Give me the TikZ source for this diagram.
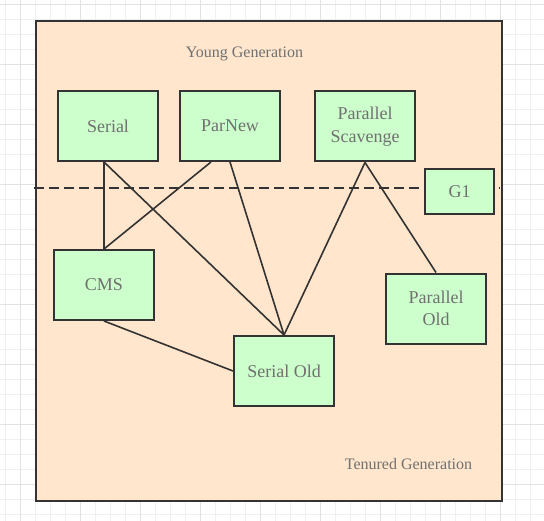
\documentclass[tikz,border=0pt]{standalone}
\usepackage{fontspec}
\setmainfont{Liberation Serif}
\usetikzlibrary{calc}
\definecolor{gridminor}{HTML}{F0F0F0}
\definecolor{gridmajor}{HTML}{E2E2E2}
\definecolor{peach}{HTML}{FFE6CC}
\definecolor{mint}{HTML}{CCFFCC}
\definecolor{edgec}{HTML}{333333}
\definecolor{txtc}{HTML}{707070}
\tikzset{
  gcbox/.style={draw=edgec, line width=2bp, fill=mint, text=txtc, align=center,
    font=\fontsize{18bp}{22.5bp}\selectfont, inner sep=0pt, minimum width=100bp, minimum height=70bp},
  conn/.style={draw=edgec, line width=1.6bp},
  lbl/.style={text=txtc, font=\fontsize{16bp}{19bp}\selectfont, inner sep=0pt}
}
\begin{document}
\begin{tikzpicture}[x=1bp,y=-1bp]
\useasboundingbox (0,0) rectangle (544,521);
\fill[white] (0,0) rectangle (544,521);
\foreach \k in {0,...,36} {
  \draw[gridminor, line width=1bp] (5.7+15*\k,0) -- (5.7+15*\k,521);
  \draw[gridminor, line width=1bp] (0,4.3+15*\k) -- (544,4.3+15*\k);
}
\foreach \k in {0,...,9} {
  \draw[gridmajor, line width=1bp] (20.7+60*\k,0) -- (20.7+60*\k,521);
  \draw[gridmajor, line width=1bp] (0,4.3+60*\k) -- (544,4.3+60*\k);
}
\draw[draw=edgec, line width=2bp, fill=peach] (36,21) rectangle (502,501);
\node[lbl] (young) at (244.5,53.5) {Young Generation};
\node[lbl] (tenured) at (408.5,464.5) {Tenured Generation};
\coordinate (dl) at (34,188);
\coordinate (dr) at (500,188);
\draw[conn, dash pattern=on 10bp off 5bp] (dl) -- (dr);
\node[gcbox] (serial) at (108,126) {Serial};
\node[gcbox] (parnew) at (230,126) {ParNew};
\node[gcbox] (ps) at (365,126.5) {Parallel\\Scavenge};
\node[gcbox, minimum width=69bp, minimum height=45bp] (g1) at (459.5,191.5) {G1};
\node[gcbox] (cms) at (104,285) {CMS};
\node[gcbox] (sold) at (284,371) {Serial Old};
\node[gcbox] (pold) at (436,308.5) {Parallel\\Old};
\draw[conn] (serial.south -| cms.north) -- (cms.north);
\draw[conn] (serial.south -| cms.north) -- (sold.north);
\draw[conn] ($(parnew.south)+(-19,0)$) -- (cms.north);
\draw[conn] (parnew.south) -- (sold.north);
\draw[conn] (ps.south) -- (sold.north);
\draw[conn] (ps.south) -- (pold.north);
\draw[conn] (cms.south) -- (sold.west);
\end{tikzpicture}
\end{document}
